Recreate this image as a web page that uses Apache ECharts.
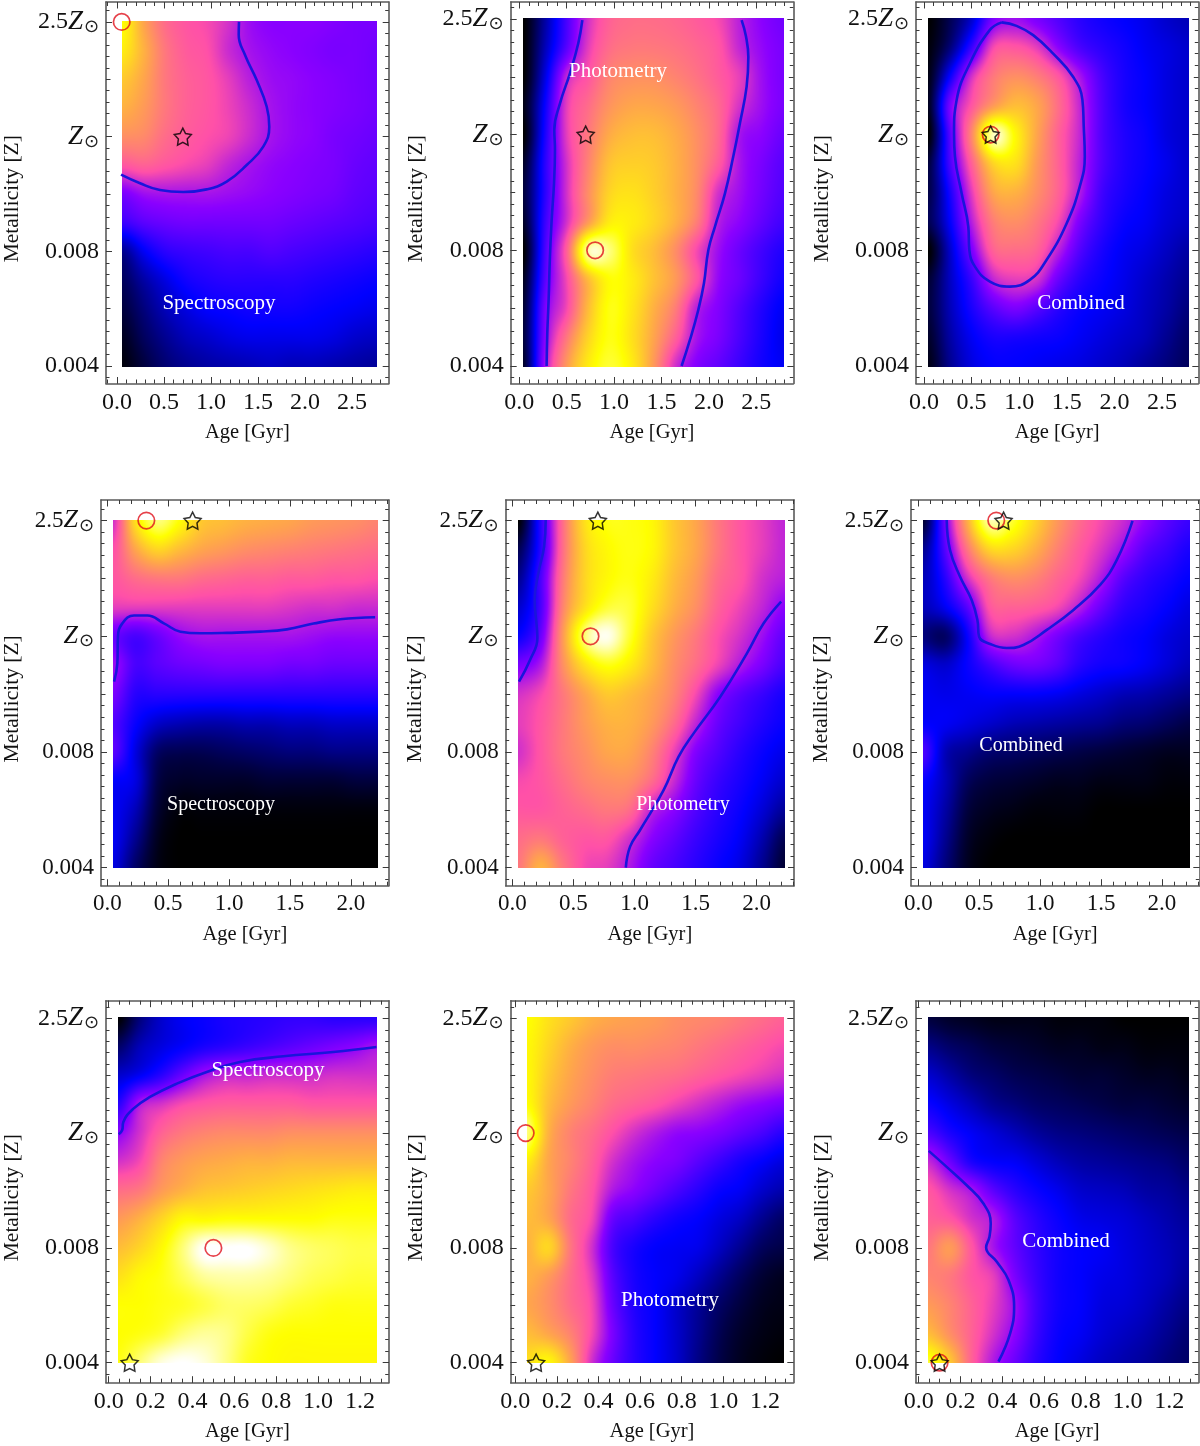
<!DOCTYPE html>
<html><head><meta charset="utf-8">
<style>html,body{margin:0;padding:0;background:#fff}#c{width:1200px;height:1446px}</style>
<script src="https://cdn.jsdelivr.net/npm/echarts@6/dist/echarts.min.js"></script>
</head><body><div id="c"></div>
<script>
// ---- read values: rows run from 2.5Z (top) down to 0.004, 13 columns from youngest to oldest age
const metallicityRows = [3.008,2.75,2.5,2.25,2,1.75,1.5,1.25,1,0.75,0.5,0.25,-0.005];
const metallicityLabels = ['0.004','0.008','Z','2.5Z'];
const panelNames = ['Spectroscopy','Photometry','Combined','Spectroscopy','Photometry','Combined','Spectroscopy','Photometry','Combined'];
const ageStart = [0.05,0.04,0.04,0.045,0.05,0.04,0.045,0.055,0.045];
const ageEnd = [2.77,2.79,2.78,2.22,2.23,2.23,1.28,1.29,1.295];
const starPoints = [[0.7,2],[0.7,2],[0.7,2],[0.7,3],[0.7,3],[0.7,3],[0.1,0],[0.1,0],[0.1,0]];
const circlePoints = [[0.05,3],[0.8,1],[0.7,2],[0.32,3],[0.64,2],[0.64,3],[0.5,1],[0.05,2],[0.1,0]];

const grid1 = [
[85,70,60,56,54,50,44,42,42,42,41,40,40],
[82,72,62,57,55,49,45,43,42,41,40,40,39],
[76,70,62,58,56,52,47,44,43,42,41,40,39],
[72,68,62,58,56,53,49,45,43,42,41,40,39],
[66,65,60,57,55,53,49,45,43,42,40,39,38],
[56,58,56,54,52,48,45,43,42,41,40,38,37],
[40,44,45,45,45,44,43,42,41,40,39,37,36],
[32,36,38,39,39,39,39,39,38,37,36,35,34],
[14,24,30,32,33,34,34,35,34,33,32,31,30],
[9,16,22,27,29,30,30,30,30,29,28,27,26],
[6,12,18,22,25,26,27,27,27,26,25,24,23],
[3,9,14,18,20,22,23,23,23,23,22,20,19],
[1,6,11,14,16,17,18,19,18,18,17,16,15]];
const grid2 = [
[0,16,34,50,58,60,60,59,57,54,47,42,39],
[0,18,36,52,60,62,62,61,59,56,48,43,40],
[0,22,48,56,64,66,66,64,61,57,52,44,40],
[2,26,52,60,67,70,70,68,64,59,50,44,40],
[0,28,52,62,71,74,74,71,66,59,45,42,38],
[4,30,50,64,75,77,76,72,66,57,45,40,36],
[6,30,50,66,78,80,77,72,65,50,44,39,35],
[4,32,50,68,82,82,78,72,63,47,42,37,33],
[0,34,58,95,92,80,74,66,54,44,38,33,29],
[3,36,54,74,85,82,75,68,56,43,38,32,27],
[5,40,54,74,86,81,72,63,47,41,35,29,24],
[6,42,62,78,86,80,70,58,45,40,34,28,23],
[4,45,68,82,88,82,68,50,41,37,32,27,24]];
const grid3 = [
[0,8,20,40,44,40,35,30,27,25,23,20,18],
[1,12,32,54,56,52,42,34,30,27,24,22,20],
[2,26,50,62,66,63,56,45,34,28,25,22,20],
[3,40,56,68,74,70,60,48,35,28,25,22,20],
[0,36,65,96,84,70,58,48,35,29,26,22,20],
[6,34,58,78,80,68,58,47,35,29,26,23,20],
[7,28,52,70,72,66,58,46,33,28,25,22,20],
[8,25,47,63,66,62,54,40,31,26,24,21,19],
[0,20,40,58,60,58,47,35,28,24,22,19,16],
[5,19,32,48,52,50,38,30,26,23,20,17,14],
[6,18,28,36,40,36,30,26,24,22,19,16,12],
[4,16,24,28,28,27,26,24,22,20,18,14,10],
[2,14,22,25,25,24,23,22,20,18,15,12,9]];
const grid4 = [
[50,80,92,85,76,74,72,71,70,68,67,66,64],
[55,70,78,74,70,68,66,65,64,63,62,61,60],
[56,60,62,62,60,59,58,58,57,57,56,56,55],
[52,52,52,52,52,52,52,52,51,50,50,49,49],
[38,34,38,43,45,45,45,45,45,44,43,43,43],
[44,34,36,38,39,40,40,40,39,39,38,38,38],
[40,30,30,30,30,30,30,30,30,30,30,30,30],
[35,26,20,18,17,17,18,18,19,19,20,20,20],
[36,22,10,8,8,9,10,11,12,12,13,13,13],
[25,22,7,4,4,4,4,5,5,5,5,6,6],
[24,18,5,1,1,1,1,1,1,1,1,1,1],
[24,14,3,0,0,0,0,0,0,0,0,0,0],
[22,10,2,0,0,0,0,0,0,0,0,0,0]];
const grid5 = [
[0,30,60,80,86,86,84,76,70,62,56,52,48],
[8,30,60,78,84,86,84,76,70,62,56,52,48],
[14,34,62,78,84,86,82,74,68,60,56,50,47],
[20,34,64,80,88,88,80,72,66,58,53,48,42],
[26,38,68,92,99,88,76,68,62,55,50,44,37],
[40,46,66,80,86,82,74,66,60,53,46,40,34],
[50,54,62,70,76,74,70,64,54,42,36,32,28],
[52,56,62,68,72,72,68,60,48,38,33,29,26],
[50,56,62,66,70,70,64,53,41,35,30,26,23],
[54,56,60,64,66,66,60,49,38,32,28,24,20],
[56,56,58,60,62,60,48,42,35,30,26,21,15],
[60,62,58,56,56,50,42,37,32,28,24,17,8],
[62,72,62,54,52,46,38,34,30,26,22,14,5]];
const grid6 = [
[5,40,72,95,88,78,68,60,54,49,42,36,32],
[14,36,62,78,78,72,64,57,51,44,36,32,28],
[18,30,50,62,66,64,59,54,46,36,31,28,25],
[18,24,36,56,58,57,54,47,38,31,28,25,22],
[12,10,26,48,50,46,40,34,30,27,25,22,20],
[22,20,26,33,38,39,36,30,27,26,24,21,18],
[24,23,24,25,25,25,24,22,20,18,17,15,13],
[25,24,22,20,18,17,16,15,14,12,11,9,7],
[34,18,14,11,10,9,8,7,6,5,4,3,3],
[26,18,9,6,5,4,3,3,2,2,2,1,1],
[24,16,6,3,2,1,1,1,0,0,0,0,0],
[24,14,4,1,0,0,0,0,0,0,0,0,0],
[22,12,3,0,0,0,0,0,0,0,0,0,0]];
const grid7 = [
[0,12,20,24,26,28,29,30,31,31,30,30,30],
[10,18,22,25,28,30,32,34,36,38,40,42,45],
[20,24,30,38,45,48,48,49,49,49,50,50,50],
[30,46,50,54,56,57,57,57,57,56,56,56,56],
[42,50,58,62,64,65,65,65,66,66,66,66,66],
[50,54,64,68,70,71,72,72,73,73,73,73,73],
[60,62,68,72,75,76,77,78,79,80,81,82,82],
[68,72,78,84,84,85,85,85,85,85,86,86,86],
[74,78,84,92,100,100,100,97,93,91,90,89,89],
[80,84,86,90,94,95,95,94,92,90,89,88,88],
[85,85,86,87,89,91,91,90,88,87,86,86,86],
[85,86,88,92,94,93,89,86,85,85,85,85,85],
[86,92,98,100,98,93,87,85,84,84,84,84,84]];
const grid8 = [
[85,80,76,72,70,69,68,66,65,64,62,60,58],
[84,78,72,68,66,66,65,64,62,60,58,56,54],
[84,76,70,66,63,62,61,60,58,56,54,52,50],
[85,74,68,64,60,58,56,53,50,47,44,42,40],
[92,72,64,60,55,50,46,43,42,40,37,34,30],
[82,70,64,58,50,45,42,40,36,32,28,25,22],
[76,70,62,56,46,42,38,34,30,26,24,20,17],
[74,70,60,54,38,34,30,27,25,22,19,14,10],
[72,78,62,50,34,28,25,24,23,19,14,9,7],
[72,68,60,52,36,28,25,23,19,14,9,5,3],
[70,66,60,54,38,29,25,20,15,10,6,3,2],
[74,70,64,54,40,30,25,20,14,8,4,2,1],
[80,84,70,50,38,30,25,20,13,7,3,1,0]];
const grid9 = [
[6,4,3,2,2,2,1,1,1,0,0,0,0],
[13,10,8,6,5,4,3,3,2,2,1,1,1],
[20,16,12,10,8,7,6,5,5,4,3,3,2],
[26,22,18,14,12,10,9,8,7,6,6,5,4],
[34,28,24,21,18,15,13,12,11,10,9,8,7],
[48,38,28,25,24,21,18,16,15,14,13,12,10],
[56,50,45,36,30,26,23,20,19,18,16,15,13],
[58,56,50,46,36,30,26,23,22,21,19,17,15],
[62,68,56,45,37,31,27,25,24,22,20,18,16],
[64,62,56,52,40,32,27,25,23,22,20,18,15],
[68,64,58,52,44,33,27,25,22,21,19,16,13],
[74,66,58,50,42,32,26,24,21,19,17,14,11],
[88,76,58,46,38,30,25,22,19,17,15,12,10]];
const heatGrids = [grid1,grid2,grid3,grid4,grid5,grid6,grid7,grid8,grid9];

// contour lines, [age, metallicity position]
const contour1 = [[[1.298,3],[1.295,2.886],[1.362,2.711],[1.486,2.493],[1.593,2.26],[1.62,2.086],[1.556,1.912],[1.38,1.752],[1.167,1.607],[0.954,1.54],[0.705,1.517],[0.457,1.534],[0.245,1.593],[0.043,1.668]]];
const contour2 = [[[0.665,2.99],[0.622,2.79],[0.534,2.53],[0.429,2.27],[0.369,2.04],[0.376,1.87],[0.366,1.58],[0.341,1.26],[0.323,0.945],[0.309,0.57],[0.295,0.28],[0.288,0]],
 [[2.345,2.99],[2.391,2.85],[2.416,2.67],[2.398,2.415],[2.328,2.1],[2.257,1.81],[2.169,1.49],[2.064,1.205],[1.994,1],[1.948,0.715],[1.888,0.484],[1.8,0.225],[1.712,0]]];
const contour3 = [[[0.815,2.97],[0.972,2.94],[1.147,2.86],[1.357,2.7],[1.566,2.5],[1.664,2.3],[1.678,2.07],[1.689,1.81],[1.636,1.55],[1.497,1.23],[1.287,0.916],[1.112,0.744],[0.902,0.686],[0.692,0.729],[0.535,0.859],[0.476,1.003],[0.465,1.205],[0.395,1.493],[0.325,1.81],[0.315,2.01],[0.343,2.3],[0.483,2.617],[0.692,2.905],[0.815,2.97]]];
const contour4 = [[[0.055,1.608],[0.082,1.767],[0.087,1.997],[0.123,2.112],[0.219,2.18],[0.328,2.18],[0.464,2.112],[0.6,2.04],[0.765,2.026],[0.984,2.03],[1.257,2.04],[1.475,2.06],[1.694,2.11],[1.913,2.147],[2.2,2.164]]];
const contour5 = [[[0.273,3.006],[0.26,2.775],[0.213,2.545],[0.183,2.314],[0.2,2.084],[0.205,1.983],[0.145,1.795],[0.055,1.608]],
 [[2.2,2.3],[2.057,2.112],[1.92,1.853],[1.702,1.478],[1.484,1.161],[1.361,0.96],[1.238,0.671],[1.046,0.326],[0.964,0.182],[0.929,0]]];
const contour6 = [[[0.233,3.006],[0.26,2.746],[0.342,2.516],[0.438,2.314],[0.485,2.141],[0.499,1.997],[0.589,1.934],[0.726,1.899],[0.863,1.925],[1.055,2.055],[1.274,2.228],[1.493,2.444],[1.63,2.66],[1.759,2.997]]];
const contour7 = [[[0.048,1.99],[0.064,2.025],[0.07,2.097],[0.118,2.213],[0.197,2.315],[0.325,2.431],[0.468,2.533],[0.627,2.62],[0.834,2.669],[1.072,2.707],[1.279,2.75]]];
const contour8 = [];
const contour9 = [[[0.048,1.845],[0.134,1.706],[0.23,1.546],[0.31,1.387],[0.345,1.213],[0.339,1.097],[0.323,1.004],[0.374,0.879],[0.43,0.72],[0.457,0.487],[0.438,0.255],[0.382,0.01]]];
const contours = [contour1,contour2,contour3,contour4,contour5,contour6,contour7,contour8,contour9];

// tick labels per row of panels
const ageLabels = [[0,0.5,1,1.5,2,2.5],[0,0.5,1,1.5,2],[0,0.2,0.4,0.6,0.8,1,1.2]];

// ---- layout (pixels): frame left,right,top,bottom, age-0 x, px per Gyr, y of 0.004, px per step, label x for panel name, label y
const layout = [
 [106,388.7,2,383.5,117,94,366,114.7,219,303,83],
 [510.7,793.3,2,383.5,519.3,94.8,366,115.7,618,71,83],
 [916,1198.3,2,383.5,924,95.2,366,115.7,1081,303,83],
 [100.3,388.7,500,885.7,106.7,122,867.7,115.7,221,805,78],
 [505.7,794,500,885.7,512.3,122.2,867.7,115.7,683,805,79],
 [911,1199.3,500,885.7,918.3,121.8,867.7,115.7,1021,746,79],
 [106,388.7,1000.7,1382.7,108.7,209.4,1362.7,114.8,268,1070,83],
 [510.7,793.3,1000.7,1382.7,515.3,208,1362.7,114.8,670,1300,83],
 [916,1198.3,1000.7,1382.7,918.7,208.8,1362.7,114.8,1066,1241,83]];
const tickSteps = [[0.5,0.1],[0.5,0.1],[0.2,0.05]];

const colorStops = [[0,[0,0,0]],[25,[0,0,255]],[42,[138,0,255]],[55,[255,80,168]],[70,[255,165,75]],[85,[255,255,0]],[100,[255,255,255]]];
const starPath = 'path://M50 0.6L65.9 30.8L99.5 36.5L75.7 60.9L80.6 94.7L50 79.6L19.4 94.7L24.3 60.9L0.5 36.5L34.1 30.8Z';
const serif = '"Liberation Serif","DejaVu Serif",serif';

function colorAt(v){
  v=Math.max(0,Math.min(100,v));
  for(let i=1;i<colorStops.length;i++){
    if(v<=colorStops[i][0]){
      const a=colorStops[i-1],b=colorStops[i],t=(v-a[0])/(b[0]-a[0]);
      return [0,1,2].map(k=>a[1][k]+(b[1][k]-a[1][k])*t);
    }
  }
  return [255,255,255];
}
const lut=[];for(let i=0;i<=1000;i++)lut.push(colorAt(i/10));
function cr(a,b,c,d,t){return b+0.5*t*(c-a+t*(2*a-5*b+4*c-d+t*(3*(b-c)+d-a)));}
// shades the whole field once at screen resolution (value space), each cell then shows its part
function shade(g,W,H){
  const cv=document.createElement('canvas');cv.width=W;cv.height=H;
  const ctx=cv.getContext('2d'),im=ctx.createImageData(W,H),R=g.length,C=g[0].length;
  const at=(r,c)=>g[Math.max(0,Math.min(R-1,r))][Math.max(0,Math.min(C-1,c))];
  for(let y=0;y<H;y++){
    const fy=y/(H-1)*(R-1),r=Math.min(R-2,Math.floor(fy)),ty=fy-r;
    for(let x=0;x<W;x++){
      const fx=x/(W-1)*(C-1),c=Math.min(C-2,Math.floor(fx)),tx=fx-c,rowv=[];
      for(let k=-1;k<=2;k++)rowv.push(cr(at(r+k,c-1),at(r+k,c),at(r+k,c+1),at(r+k,c+2),tx));
      const v=cr(rowv[0],rowv[1],rowv[2],rowv[3],ty),col=lut[Math.round(Math.max(0,Math.min(100,v))*10)],o=(y*W+x)*4;
      im.data[o]=col[0];im.data[o+1]=col[1];im.data[o+2]=col[2];im.data[o+3]=255;
    }
  }
  ctx.putImageData(im,0,0);return cv;
}
function stepList(step,lo,hi){const out=[];const s=Math.ceil(lo/step-1e-9),e=Math.floor(hi/step+1e-9);for(let i=s;i<=e;i++)out.push(+(i*step).toFixed(4));return out;}

const grids=[],xAxes=[],yAxes=[],series=[],graphics=[];
const axisLineStyle={color:'#5a5a5a',width:1.6};
const tickStyle={color:'#3a3a3a',width:1};
layout.forEach((L,p)=>{
  const [fl,fr,ft,fb,x0,sx,y0,sy,nx,ny,nameGap]=L, row=Math.floor(p/3);
  const xmin=(fl-x0)/sx,xmax=(fr-x0)/sx,ymin=(y0-fb)/sy,ymax=(y0-ft)/sy;
  grids.push({left:fl,top:ft,width:fr-fl,height:fb-ft,containLabel:false});
  const [xMaj,xMin]=tickSteps[row];
  const xMajors=stepList(xMaj,xmin,xmax),xMinors=stepList(xMin,xmin,xmax);
  const yMajors=stepList(1,ymin,ymax),yMids=stepList(0.5,ymin,ymax),yMinors=stepList(0.1,ymin,ymax);
  const fs=row===1?23:24;
  const xBase=(pos,vals,len,line,extra)=>Object.assign({type:'value',gridIndex:p,position:pos,min:xmin,max:xmax,scale:true,
    splitLine:{show:false},axisLine:{show:line,onZero:false,lineStyle:axisLineStyle},
    axisTick:{show:true,inside:true,length:len,customValues:vals,lineStyle:tickStyle},axisLabel:{show:false}},extra||{});
  const yBase=(pos,vals,len,line,extra)=>Object.assign({type:'value',gridIndex:p,position:pos,min:ymin,max:ymax,scale:true,
    splitLine:{show:false},axisLine:{show:line,onZero:false,lineStyle:axisLineStyle},
    axisTick:{show:true,inside:true,length:len,customValues:vals,lineStyle:tickStyle},axisLabel:{show:false}},extra||{});
  const xIdx=xAxes.length,yIdx=yAxes.length;
  xAxes.push(xBase('bottom',xMajors,6.5,true,{
    name:'Age [Gyr]',nameLocation:'middle',nameGap:38.5,nameTextStyle:{fontFamily:serif,fontSize:20.5,color:'#111'},
    axisLabel:{show:true,customValues:ageLabels[row],margin:7,fontFamily:serif,fontSize:fs,color:'#111',formatter:v=>v.toFixed(1)}}));
  xAxes.push(xBase('bottom',xMinors,4,false));
  xAxes.push(xBase('top',xMajors,6.5,true));
  xAxes.push(xBase('top',xMinors,4,false));
  yAxes.push(yBase('left',yMajors,6,true,{
    name:'Metallicity [Z]',nameLocation:'middle',nameGap:nameGap,nameTextStyle:{fontFamily:serif,fontSize:21.5,color:'#111',padding:[0,0,0,-12]},
    axisLabel:{show:true,customValues:[0,1,2,3],margin:7,fontFamily:serif,fontSize:fs,color:'#111',
      formatter:v=>{const s=metallicityLabels[v];
        if(s==='Z')return '{z|Z}{s|\u2299}';
        if(s==='2.5Z')return '{n|2.5}{z|Z}{s|\u2299}';
        return s;},
      rich:{n:{fontFamily:serif,fontSize:fs,color:'#111'},
            z:{fontFamily:serif,fontStyle:'italic',fontSize:fs+3,color:'#111'},
            s:{fontFamily:'"DejaVu Sans"',fontSize:18,color:'#222',padding:[11,0,0,1]}}}}));
  yAxes.push(yBase('left',yMids,4.5,false));
  yAxes.push(yBase('left',yMinors,3.5,false));
  yAxes.push(yBase('right',yMajors,6,true));
  yAxes.push(yBase('right',yMids,4.5,false));
  yAxes.push(yBase('right',yMinors,3.5,false));

  const g=heatGrids[p],C=g[0].length,R=g.length,cols=[];
  for(let c=0;c<C;c++)cols.push(ageStart[p]+(ageEnd[p]-ageStart[p])*c/(C-1));
  const cells=[];
  g.forEach((rowv,r)=>rowv.forEach((v,c)=>cells.push([cols[c],metallicityRows[r],v,c,r])));
  let field=null,fx=0,fy=0;
  series.push({type:'custom',coordinateSystem:'cartesian2d',xAxisIndex:xIdx,yAxisIndex:yIdx,silent:true,z:1,
    data:cells,encode:{x:0,y:1},
    renderItem:(params,api)=>{
      const c=api.value(3),r=api.value(4);
      if(c>=C-1||r>=R-1)return null;
      if(!field){
        const a=api.coord([cols[0],metallicityRows[0]]),b=api.coord([cols[C-1],metallicityRows[R-1]]);
        fx=Math.round(a[0]);fy=Math.round(a[1]);
        field=shade(g,Math.round(b[0])-fx,Math.round(b[1])-fy);
      }
      const a=api.coord([cols[c],metallicityRows[r]]),b=api.coord([cols[c+1],metallicityRows[r+1]]);
      const x=Math.round(a[0]),y=Math.round(a[1]),w=Math.round(b[0])-x,h=Math.round(b[1])-y;
      return {type:'image',style:{image:field,x:x,y:y,width:w,height:h,sx:x-fx,sy:y-fy,sWidth:w,sHeight:h}};
    }});
  contours[p].forEach(path=>series.push({type:'line',xAxisIndex:xIdx,yAxisIndex:yIdx,data:path,smooth:0.45,showSymbol:false,symbol:'none',
    silent:true,clip:false,z:3,lineStyle:{color:'#1a14dc',width:2.6}}));
  series.push({type:'scatter',xAxisIndex:xIdx,yAxisIndex:yIdx,data:[circlePoints[p]],symbol:'circle',symbolSize:16.5,silent:true,clip:false,z:4,
    itemStyle:{color:'rgba(0,0,0,0)',borderColor:'#e0101c',borderWidth:1.7}});
  series.push({type:'scatter',xAxisIndex:xIdx,yAxisIndex:yIdx,data:[starPoints[p]],symbol:starPath,symbolSize:17,silent:true,clip:false,z:5,
    itemStyle:{color:'rgba(0,0,0,0)',borderColor:'#000',borderWidth:1.5}});
  graphics.push({type:'text',x:nx,y:ny,z:10,silent:true,style:{text:panelNames[p],fill:'#fff',font:(row===1?'20px ':'21px ')+serif,textAlign:'center',textVerticalAlign:'middle'}});
});

const chart=echarts.init(document.getElementById('c'),null,{renderer:'canvas',width:1200,height:1446});
chart.setOption({animation:false,backgroundColor:'#fff',grid:grids,xAxis:xAxes,yAxis:yAxes,series:series,graphic:graphics});
</script></body></html>
